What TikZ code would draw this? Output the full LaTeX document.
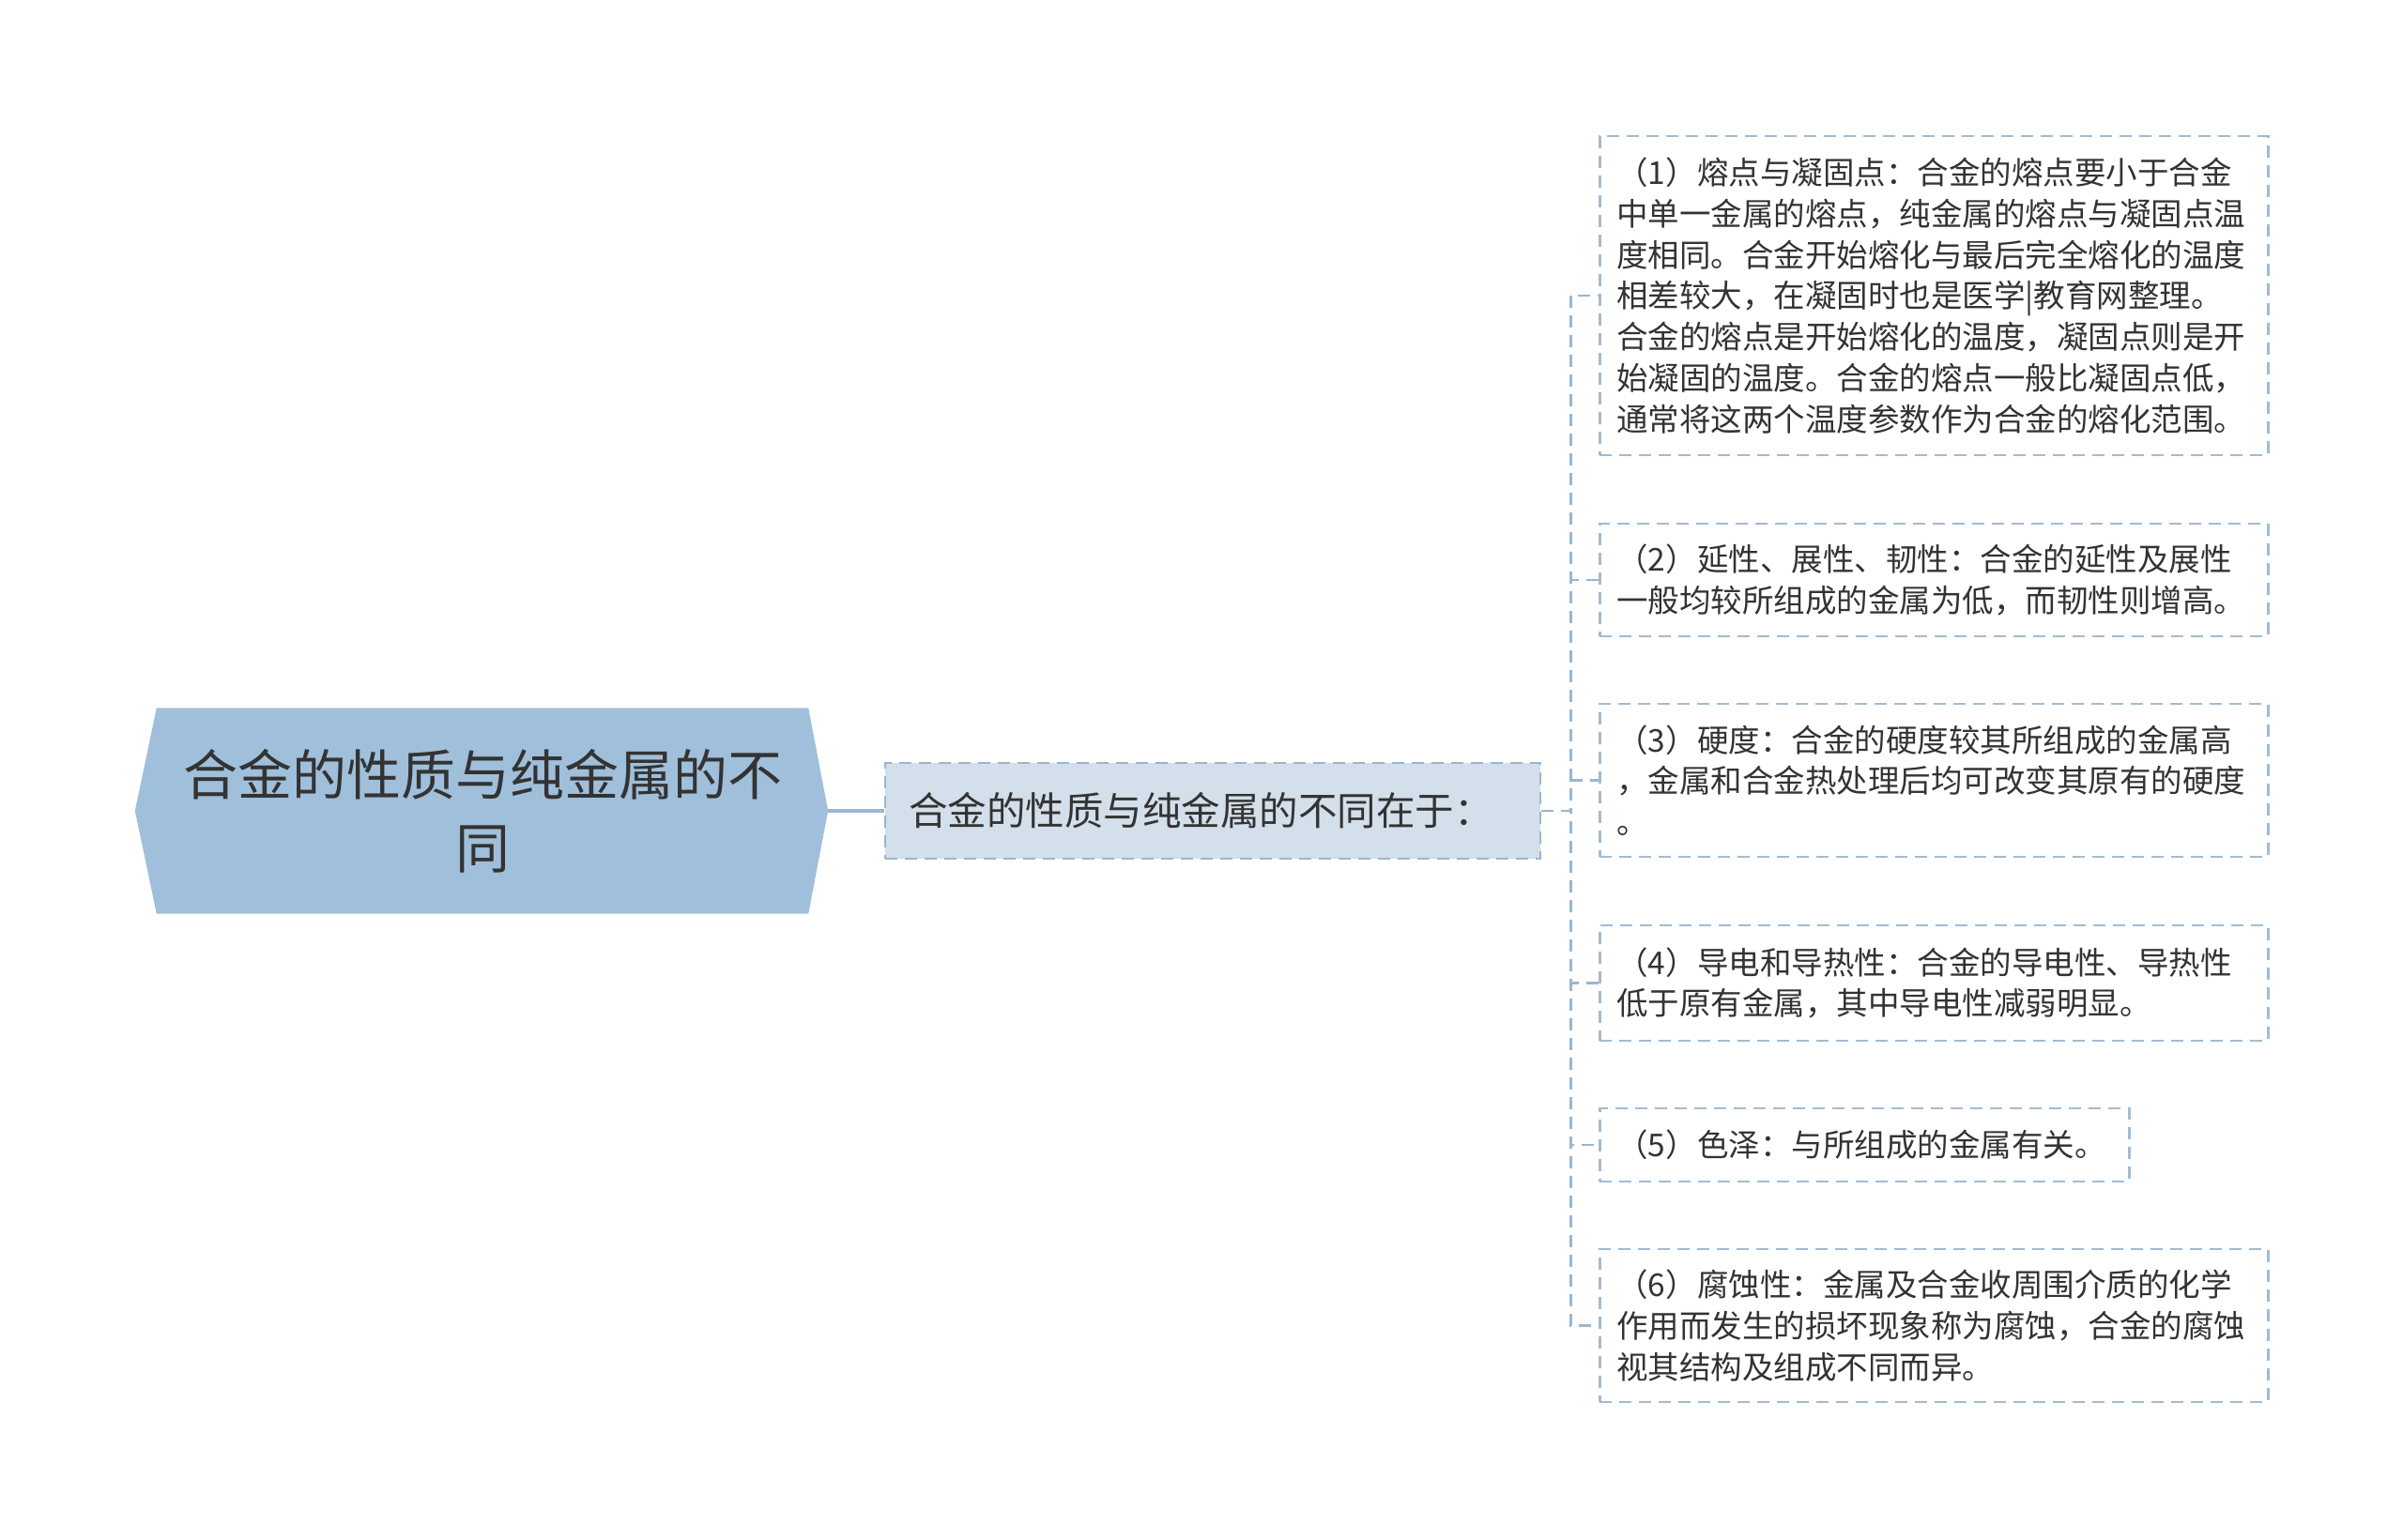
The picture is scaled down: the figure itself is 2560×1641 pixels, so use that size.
\documentclass[tikz,border=0pt]{standalone}
\usepackage{fontspec}
\setmainfont{Noto Sans CJK SC}
\usetikzlibrary{backgrounds}

\definecolor{rootblue}{HTML}{A0BFDB}
\definecolor{childblue}{HTML}{D3DFEA}
\definecolor{lineblue}{HTML}{9AB6D0}
\definecolor{leafline}{HTML}{A2BBD3}
\definecolor{textgray}{HTML}{333333}

\begin{document}
\begin{tikzpicture}[x=1pt, y=-1pt,
        leaf/.style={draw=leafline, line width=2.8pt, dash pattern=on 13pt off 8pt, fill=white, anchor=west, align=left, text width=676pt, inner xsep=18pt, inner ysep=0pt, text=textgray, font=\fontsize{33.5}{43.7}\selectfont},
        buslink/.style={draw=lineblue, line width=2.8pt, dash pattern=on 13pt off 8pt}]
        \useasboundingbox (0,0) rectangle (2560,1641);

        % Root and first level
        \node[align=center, minimum width=694pt, minimum height=219pt, inner sep=0pt, text=textgray, font=\fontsize{58}{78}\selectfont] (root) at (514,864) {合金的性质与纯金属的不\\同};
        \coordinate (rootleft) at ([xshift=-23pt]root.west);
        \coordinate (roottip) at ([xshift=21pt]root.east);
        \begin{scope}[on background layer]
            \fill[rootblue] (rootleft) -- (root.north west) -- (root.north east) -- (roottip) -- (root.south east) -- (root.south west) -- cycle;
        \end{scope}

        \node[draw=lineblue, fill=childblue, line width=2.8pt, dash pattern=on 13pt off 8pt, align=left, text width=648pt, inner xsep=25pt, minimum height=102pt, inner ysep=0pt, text=textgray, font=\fontsize{41.5}{50}\selectfont] (child) at (1292,864) {合金的性质与纯金属的不同在于：};

        \draw[lineblue, line width=4pt] (roottip) -- (child.west);

        % Leaves
        \node[leaf, minimum height=340pt] (leaf1) at (1703,315) {（1）熔点与凝固点：合金的熔点要小于合金\\中单一金属的熔点，纯金属的熔点与凝固点温\\度相同。合金开始熔化与最后完全熔化的温度\\相差较大，在凝固时也是医学|教育网整理。\\合金的熔点是开始熔化的温度，凝固点则是开\\始凝固的温度。合金的熔点一般比凝固点低，\\通常将这两个温度参数作为合金的熔化范围。};
        \node[leaf, minimum height=120pt] (leaf2) at (1703,618) {（2）延性、展性、韧性：合金的延性及展性\\一般均较所组成的金属为低，而韧性则增高。};
        \node[leaf, minimum height=163pt] (leaf3) at (1703,831.5) {（3）硬度：合金的硬度较其所组成的金属高\\，金属和合金热处理后均可改变其原有的硬度\\。};
        \node[leaf, minimum height=123pt] (leaf4) at (1703,1047.5) {（4）导电和导热性：合金的导电性、导热性\\低于原有金属，其中导电性减弱明显。};
        \node[leaf, minimum height=78pt, text width=528pt] (leaf5) at (1703,1220) {（5）色泽：与所组成的金属有关。};
        \node[leaf, minimum height=163pt] (leaf6) at (1703,1412.5) {（6）腐蚀性：金属及合金收周围介质的化学\\作用而发生的损坏现象称为腐蚀，合金的腐蚀\\视其结构及组成不同而异。};

        \foreach \i in {1,...,6}
            \draw[buslink] (child.east) -- ++(31,0) |- (leaf\i.west);
    \end{tikzpicture}
\end{document}
